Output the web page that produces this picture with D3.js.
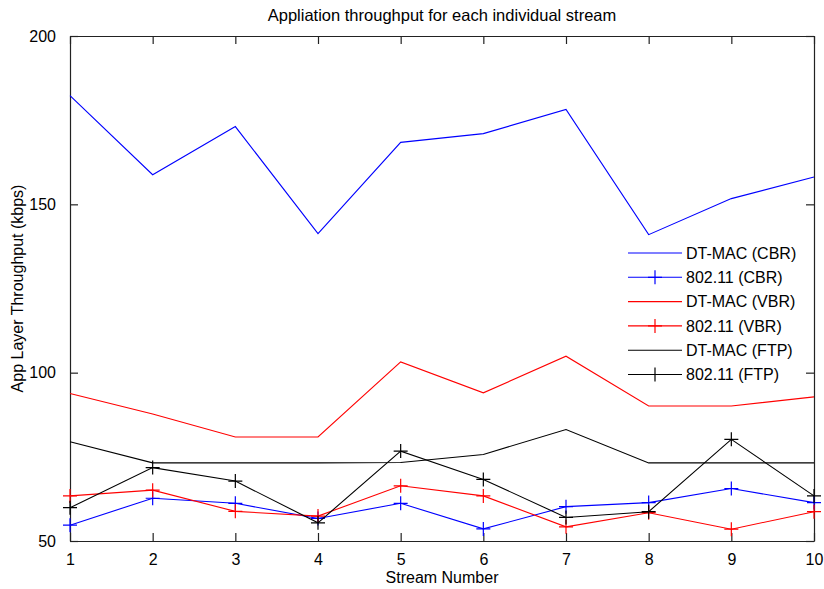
<!DOCTYPE html>
<html>
<head>
<meta charset="utf-8">
<script src="https://cdn.jsdelivr.net/npm/d3@7/dist/d3.min.js"></script>
<style>
  html, body { margin: 0; padding: 0; background: #fff; }
  svg { display: block; }
  text { font-family: "Liberation Sans", Arial, Helvetica, sans-serif; fill: #000; }
</style>
</head>
<body>
<svg id="chart" width="824" height="589"></svg>
<script>
// Stream numbers on the x axis
const streams = [1, 2, 3, 4, 5, 6, 7, 8, 9, 10];

// Throughput per stream (kbps)
const dtmacCBR = [182.3, 158.8, 173.1, 141.3, 168.4, 171.0, 178.2, 141.0, 151.7, 158.1];
const wifiCBR  = [54.7, 62.7, 61.2, 56.7, 61.2, 53.6, 60.2, 61.4, 65.6, 61.4];
const dtmacVBR = [93.8, 87.7, 80.9, 80.9, 103.2, 94.0, 104.9, 90.1, 90.1, 92.8];
const wifiVBR  = [63.4, 65.1, 58.8, 57.4, 66.4, 63.4, 54.2, 58.4, 53.5, 58.7];
const dtmacFTP = [79.5, 73.2, 73.2, 73.2, 73.3, 75.7, 83.1, 73.2, 73.2, 73.2];
const wifiFTP  = [59.9, 71.8, 67.8, 55.4, 76.7, 68.3, 57.0, 58.7, 80.2, 63.4];

const seriesNames = ["DT-MAC (CBR)", "802.11 (CBR)", "DT-MAC (VBR)", "802.11 (VBR)", "DT-MAC (FTP)", "802.11 (FTP)"];
const yTicks = [50, 100, 150, 200];

const series = [
  { name: seriesNames[0], values: dtmacCBR, color: "#0000ff", marker: false },
  { name: seriesNames[1], values: wifiCBR,  color: "#0000ff", marker: true },
  { name: seriesNames[2], values: dtmacVBR, color: "#ff0000", marker: false },
  { name: seriesNames[3], values: wifiVBR,  color: "#ff0000", marker: true },
  { name: seriesNames[4], values: dtmacFTP, color: "#000000", marker: false },
  { name: seriesNames[5], values: wifiFTP,  color: "#000000", marker: true }
];

const plotLeft = 70, plotRight = 814, plotTop = 36, plotBottom = 541;
const svg = d3.select("#chart");

const x = d3.scaleLinear().domain([1, 10]).range([plotLeft, plotRight]);
const y = d3.scaleLinear().domain([50, 200]).range([plotBottom, plotTop]);

const tickLen = 8;
const axisColor = "#222";

// Bottom axis (ticks point inward)
const xAxis = svg.append("g")
  .attr("transform", `translate(0,${plotBottom})`)
  .call(d3.axisBottom(x).tickValues(streams).tickFormat(d3.format("d")).tickSizeInner(-tickLen).tickSizeOuter(0).tickPadding(16));
// Top mirror axis
const xAxisTop = svg.append("g")
  .attr("transform", `translate(0,${plotTop})`)
  .call(d3.axisTop(x).tickValues(streams).tickFormat("").tickSizeInner(-tickLen).tickSizeOuter(0));
// Left axis
const yAxis = svg.append("g")
  .attr("transform", `translate(${plotLeft},0)`)
  .call(d3.axisLeft(y).tickValues(yTicks).tickFormat(d3.format("d")).tickSizeInner(-tickLen).tickSizeOuter(0).tickPadding(14));
// Right mirror axis
const yAxisRight = svg.append("g")
  .attr("transform", `translate(${plotRight},0)`)
  .call(d3.axisRight(y).tickValues(yTicks).tickFormat("").tickSizeInner(-tickLen).tickSizeOuter(0));

[xAxis, xAxisTop, yAxis, yAxisRight].forEach(g => {
  g.selectAll("path.domain").attr("stroke", axisColor).attr("stroke-width", 1.2);
  g.selectAll(".tick line").attr("stroke", axisColor).attr("stroke-width", 1.2);
  g.selectAll(".tick text").style("font-size", "16px").attr("fill", "#000");
});
xAxis.selectAll(".tick text").attr("dy", "0.5em");

// Series lines and "+" markers
const line = d3.line().x((d, i) => x(streams[i])).y(d => y(d));
const plusSize = 7;

series.forEach(s => {
  svg.append("path")
    .datum(s.values)
    .attr("fill", "none")
    .attr("stroke", s.color)
    .attr("stroke-width", 1.1)
    .attr("d", line);
  if (s.marker) {
    const g = svg.append("g");
    g.selectAll("path.plus")
      .data(s.values)
      .join("path")
      .attr("class", "plus")
      .attr("stroke", s.color)
      .attr("stroke-width", 1.2)
      .attr("d", (d, i) => {
        const cx = x(streams[i]), cy = y(d);
        return `M${cx - plusSize},${cy}H${cx + plusSize}M${cx},${cy - plusSize}V${cy + plusSize}`;
      });
  }
});

// Title and axis labels
svg.append("text")
  .attr("x", (plotLeft + plotRight) / 2).attr("y", 21)
  .attr("text-anchor", "middle").style("font-size", "16.5px")
  .text("Appliation throughput for each individual stream");

svg.append("text")
  .attr("x", (plotLeft + plotRight) / 2).attr("y", 583)
  .attr("text-anchor", "middle").style("font-size", "16px")
  .text("Stream Number");

svg.append("text")
  .attr("transform", `translate(23,${(plotTop + plotBottom) / 2}) rotate(-90)`)
  .attr("text-anchor", "middle").style("font-size", "16px")
  .text("App Layer Throughput (kbps)");

// Legend
const legend = svg.append("g");
const legX0 = 628, legX1 = 682, legY0 = 253, legStep = 24.3;
series.forEach((s, i) => {
  const ly = legY0 + i * legStep;
  legend.append("line")
    .attr("x1", legX0).attr("x2", legX1).attr("y1", ly).attr("y2", ly)
    .attr("stroke", s.color).attr("stroke-width", 1.1);
  if (s.marker) {
    const cx = (legX0 + legX1) / 2;
    legend.append("path")
      .attr("stroke", s.color).attr("stroke-width", 1.2)
      .attr("d", `M${cx - plusSize},${ly}H${cx + plusSize}M${cx},${ly - plusSize}V${ly + plusSize}`);
  }
  legend.append("text")
    .attr("x", 686).attr("y", ly).attr("dy", "0.36em")
    .style("font-size", "16px")
    .text(s.name);
});
</script>
</body>
</html>
